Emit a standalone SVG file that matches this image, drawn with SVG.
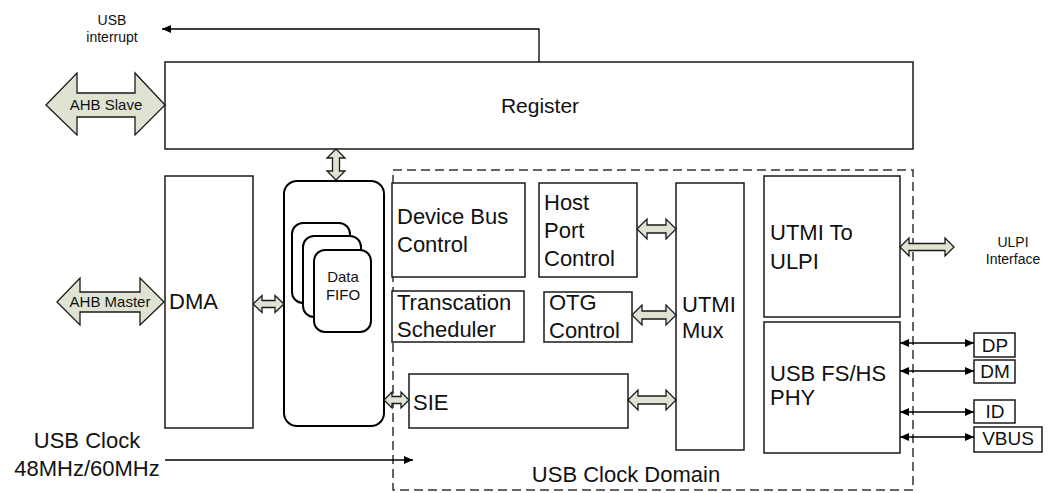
<svg xmlns="http://www.w3.org/2000/svg" width="1049" height="493" viewBox="0 0 1049 493">
<style>
  .box{fill:#fff;stroke:#1a1a1a;stroke-width:1.5}
  .rbox{fill:#fff;stroke:#000;stroke-width:2}
  .dash{fill:none;stroke:#333;stroke-width:1.5;stroke-dasharray:9 5}
  .barrow{fill:#dfe4d2;stroke:#1a1a1a;stroke-width:1.3;stroke-linejoin:miter}
  .line{fill:none;stroke:#000;stroke-width:1.3}
  text{font-family:"Liberation Sans",Arial,sans-serif;fill:#111}
  .t22{font-size:22px}
  .t21{font-size:21px}
  .t19{font-size:19px}
  .t15{font-size:15px}
  .t14{font-size:14px}
</style>
<defs>
  <marker id="ah" markerWidth="10" markerHeight="10" refX="9" refY="5" orient="auto" markerUnits="userSpaceOnUse">
    <path d="M0,1 L9,5 L0,9 Z" fill="#000"/>
  </marker>
  <marker id="ahs" markerWidth="10" markerHeight="10" refX="9" refY="5" orient="auto-start-reverse" markerUnits="userSpaceOnUse">
    <path d="M0,1 L9,5 L0,9 Z" fill="#000"/>
  </marker>
</defs>

<rect id="clock-domain" class="dash" x="393" y="170" width="520" height="320"/>

<g id="register"><rect class="box" x="165" y="62" width="748" height="87"/><text class="t21" x="540" y="113" text-anchor="middle">Register</text></g>
<g id="dma"><rect class="box" x="165" y="176" width="88" height="252"/><text class="t22" x="169" y="309">DMA</text></g>
<g id="fifo">
  <rect class="rbox" x="284" y="181" width="100" height="245" rx="13"/>
  <rect class="rbox" x="292" y="223" width="58" height="80" rx="11"/>
  <rect class="rbox" x="303" y="236" width="58" height="81" rx="11"/>
  <rect class="rbox" x="314" y="250" width="57" height="82" rx="11"/>
  <text class="t15" x="343" y="282" text-anchor="middle">Data</text>
  <text class="t15" x="343" y="300" text-anchor="middle">FIFO</text>
</g>
<g id="device-bus"><rect class="box" x="392" y="183" width="133" height="94"/><text class="t22" x="397" y="224">Device Bus</text><text class="t22" x="397" y="252">Control</text></g>
<g id="host-port"><rect class="box" x="539" y="183" width="98" height="94"/><text class="t22" x="544" y="210">Host</text><text class="t22" x="544" y="238">Port</text><text class="t22" x="544" y="266">Control</text></g>
<g id="trans-sched"><rect class="box" x="392" y="291" width="132" height="51"/><text class="t22" x="397" y="310">Transcation</text><text class="t22" x="397" y="337">Scheduler</text></g>
<g id="otg"><rect class="box" x="544" y="292" width="88" height="50"/><text class="t22" x="549" y="310">OTG</text><text class="t22" x="549" y="338">Control</text></g>
<g id="sie"><rect class="box" x="409" y="374" width="219" height="54"/><text class="t22" x="413" y="410">SIE</text></g>
<g id="utmi-mux"><rect class="box" x="676" y="183" width="68" height="267"/><text class="t22" x="682" y="312">UTMI</text><text class="t22" x="682" y="338">Mux</text></g>
<g id="utmi-ulpi"><rect class="box" x="764" y="176" width="136" height="141"/><text class="t22" x="770" y="240">UTMI To</text><text class="t22" x="770" y="269">ULPI</text></g>
<g id="phy"><rect class="box" x="764" y="322" width="136" height="131"/><text class="t22" x="770" y="381">USB FS/HS</text><text class="t22" x="770" y="405">PHY</text></g>
<g id="dp"><rect class="box" x="974" y="333" width="41" height="24"/><text class="t19" x="995" y="352" text-anchor="middle">DP</text></g>
<g id="dm"><rect class="box" x="974" y="360" width="41" height="23"/><text class="t19" x="995" y="378" text-anchor="middle">DM</text></g>
<g id="id"><rect class="box" x="974" y="400" width="41" height="23"/><text class="t19" x="995" y="418" text-anchor="middle">ID</text></g>
<g id="vbus"><rect class="box" x="974" y="427" width="68" height="25"/><text class="t19" x="1008" y="445" text-anchor="middle">VBUS</text></g>

<g id="labels">
  <text class="t14" x="112" y="25" text-anchor="middle">USB</text>
  <text class="t14" x="112" y="42" text-anchor="middle">interrupt</text>
  <text class="t14" x="1013" y="247" text-anchor="middle">ULPI</text>
  <text class="t14" x="1013" y="264" text-anchor="middle">Interface</text>
  <text class="t22" x="87" y="448" text-anchor="middle">USB Clock</text>
  <text class="t22" x="87" y="476" text-anchor="middle">48MHz/60MHz</text>
  <text class="t22" x="626" y="482" text-anchor="middle">USB Clock Domain</text>
</g>

<g id="connectors">
  <polyline class="line" points="539,62 539,29 162,29" marker-end="url(#ah)"/>
  <line class="line" x1="165" y1="460" x2="413" y2="460" marker-end="url(#ah)"/>
  <line class="line" x1="900" y1="343" x2="974" y2="343" marker-start="url(#ahs)" marker-end="url(#ahs)"/>
  <line class="line" x1="900" y1="371" x2="974" y2="371" marker-start="url(#ahs)" marker-end="url(#ahs)"/>
  <line class="line" x1="900" y1="412" x2="974" y2="412" marker-start="url(#ahs)" marker-end="url(#ahs)"/>
  <line class="line" x1="900" y1="437" x2="974" y2="437" marker-start="url(#ahs)" marker-end="url(#ahs)"/>
  <g id="ahb-slave"><polygon class="barrow" points="46,105 77,73 77,93 135,93 135,73 165,105 135,135 135,117 77,117 77,135"/><text class="t15" x="106" y="110" text-anchor="middle">AHB Slave</text></g>
  <g id="ahb-master"><polygon class="barrow" points="57,302 80,278 80,292 140,292 140,278 164,302 140,325 140,312 80,312 80,325"/><text class="t15" x="110" y="307" text-anchor="middle">AHB Master</text></g>
  <polygon class="barrow" points="336,149 345,158 339.5,158 339.5,171 345,171 336,180 327,171 332.5,171 332.5,158 327,158"/>
  <polygon class="barrow" points="253,304 262,295.5 262,300.5 275,300.5 275,295.5 284,304 275,312.5 275,307.5 262,307.5 262,312.5"/>
  <polygon class="barrow" points="384,400 392,392 392,396.5 401,396.5 401,392 409,400 401,408 401,403.5 392,403.5 392,408"/>
  <polygon class="barrow" points="637,229 647,219 647,225 666,225 666,219 676,229 666,239 666,233 647,233 647,239"/>
  <polygon class="barrow" points="632,315 642,305 642,311 666,311 666,305 676,315 666,325 666,319 642,319 642,325"/>
  <polygon class="barrow" points="628,400 638,390 638,396 666,396 666,390 676,400 666,410 666,404 638,404 638,410"/>
  <polygon class="barrow" points="900,247 909,238 909,243.5 945,243.5 945,238 954,247 945,256 945,250.5 909,250.5 909,256"/>
</g>
</svg>
